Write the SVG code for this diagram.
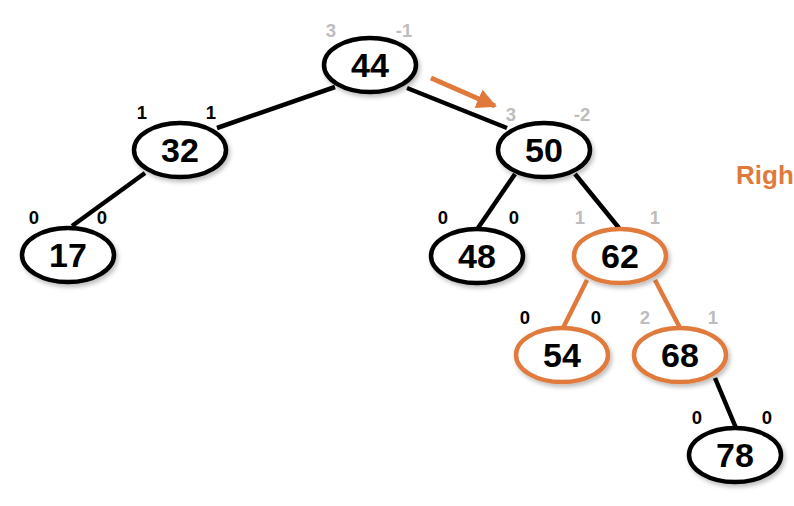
<svg xmlns="http://www.w3.org/2000/svg" width="794" height="506" viewBox="0 0 794 506">
<style>
.n{fill:#fff;stroke:#000;stroke-width:4.5}
.o{fill:#fff;stroke:#e07a3c;stroke-width:4.5}
.t{font-family:"Liberation Sans",Arial,sans-serif;font-weight:bold;font-size:34px;text-anchor:middle;fill:#000}
.l{font-family:"Liberation Sans",Arial,sans-serif;font-weight:bold;font-size:18.5px;text-anchor:middle;fill:#000}
.g{fill:#bdbdbd}
.e{stroke:#000;stroke-width:4.5;fill:none}
.eo{stroke:#e07a3c;stroke-width:4.5;fill:none}
</style>
<defs>
<filter id="sh" x="-20%" y="-20%" width="150%" height="160%">
<feDropShadow dx="2" dy="3" stdDeviation="2" flood-color="#000" flood-opacity="0.25"/>
</filter>
<marker id="ah" viewBox="0 0 10 10" refX="9" refY="5" markerWidth="4" markerHeight="4" orient="auto">
<path d="M0,0 L10,5 L0,10 Z" fill="#e07a3c"/>
</marker>
</defs>
<rect width="794" height="506" fill="#fff"/>
<g id="connectors">
<line class="e" x1="335" y1="87" x2="217" y2="128"/>
<line class="e" x1="407" y1="88" x2="507" y2="128"/>
<line class="e" x1="145" y1="173" x2="72" y2="226"/>
<line class="e" x1="515" y1="174" x2="478" y2="228"/>
<line class="e" x1="575" y1="174" x2="619" y2="228"/>
<line class="eo" x1="587" y1="280" x2="563" y2="328"/>
<line class="eo" x1="655" y1="280" x2="680" y2="328"/>
<line class="e" x1="715" y1="378" x2="736" y2="428"/>
<line stroke="#e07a3c" stroke-width="5" x1="431" y1="78" x2="495" y2="106" marker-end="url(#ah)"/>
</g>
<g id="n44"><ellipse class="n" filter="url(#sh)" cx="370" cy="65" rx="46" ry="27"/><text class="t" x="370" y="77">44</text><text class="l g" x="331" y="37">3</text><text class="l g" x="404" y="37">-1</text></g>
<g id="n32"><ellipse class="n" filter="url(#sh)" cx="180" cy="150" rx="46" ry="27"/><text class="t" x="180" y="162">32</text><text class="l" x="142" y="119">1</text><text class="l" x="211" y="119">1</text></g>
<g id="n17"><ellipse class="n" filter="url(#sh)" cx="68" cy="255" rx="46" ry="27"/><text class="t" x="68" y="267">17</text><text class="l" x="34" y="224">0</text><text class="l" x="102" y="224">0</text></g>
<g id="n50"><ellipse class="n" filter="url(#sh)" cx="544" cy="150" rx="46" ry="27"/><text class="t" x="544" y="162">50</text><text class="l g" x="511" y="121">3</text><text class="l g" x="582" y="121">-2</text></g>
<g id="n48"><ellipse class="n" filter="url(#sh)" cx="477" cy="256" rx="46" ry="27"/><text class="t" x="477" y="268">48</text><text class="l" x="443" y="224">0</text><text class="l" x="514" y="224">0</text></g>
<g id="n62"><ellipse class="o" filter="url(#sh)" cx="620" cy="256" rx="46" ry="27"/><text class="t" x="620" y="268">62</text><text class="l g" x="580" y="224">1</text><text class="l g" x="655" y="224">1</text></g>
<g id="n54"><ellipse class="o" filter="url(#sh)" cx="562" cy="355" rx="46" ry="27"/><text class="t" x="562" y="367">54</text><text class="l" x="525" y="324">0</text><text class="l" x="596" y="324">0</text></g>
<g id="n68"><ellipse class="o" filter="url(#sh)" cx="680" cy="355" rx="46" ry="27"/><text class="t" x="680" y="367">68</text><text class="l g" x="645" y="324">2</text><text class="l g" x="713" y="324">1</text></g>
<g id="n78"><ellipse class="n" filter="url(#sh)" cx="735" cy="455" rx="46" ry="27"/><text class="t" x="735" y="467">78</text><text class="l" x="697" y="424">0</text><text class="l" x="767" y="424">0</text></g>
<text x="736" y="184" font-family="Liberation Sans,Arial,sans-serif" font-weight="bold" font-size="26" fill="#e07a3c">Righ</text>
</svg>
